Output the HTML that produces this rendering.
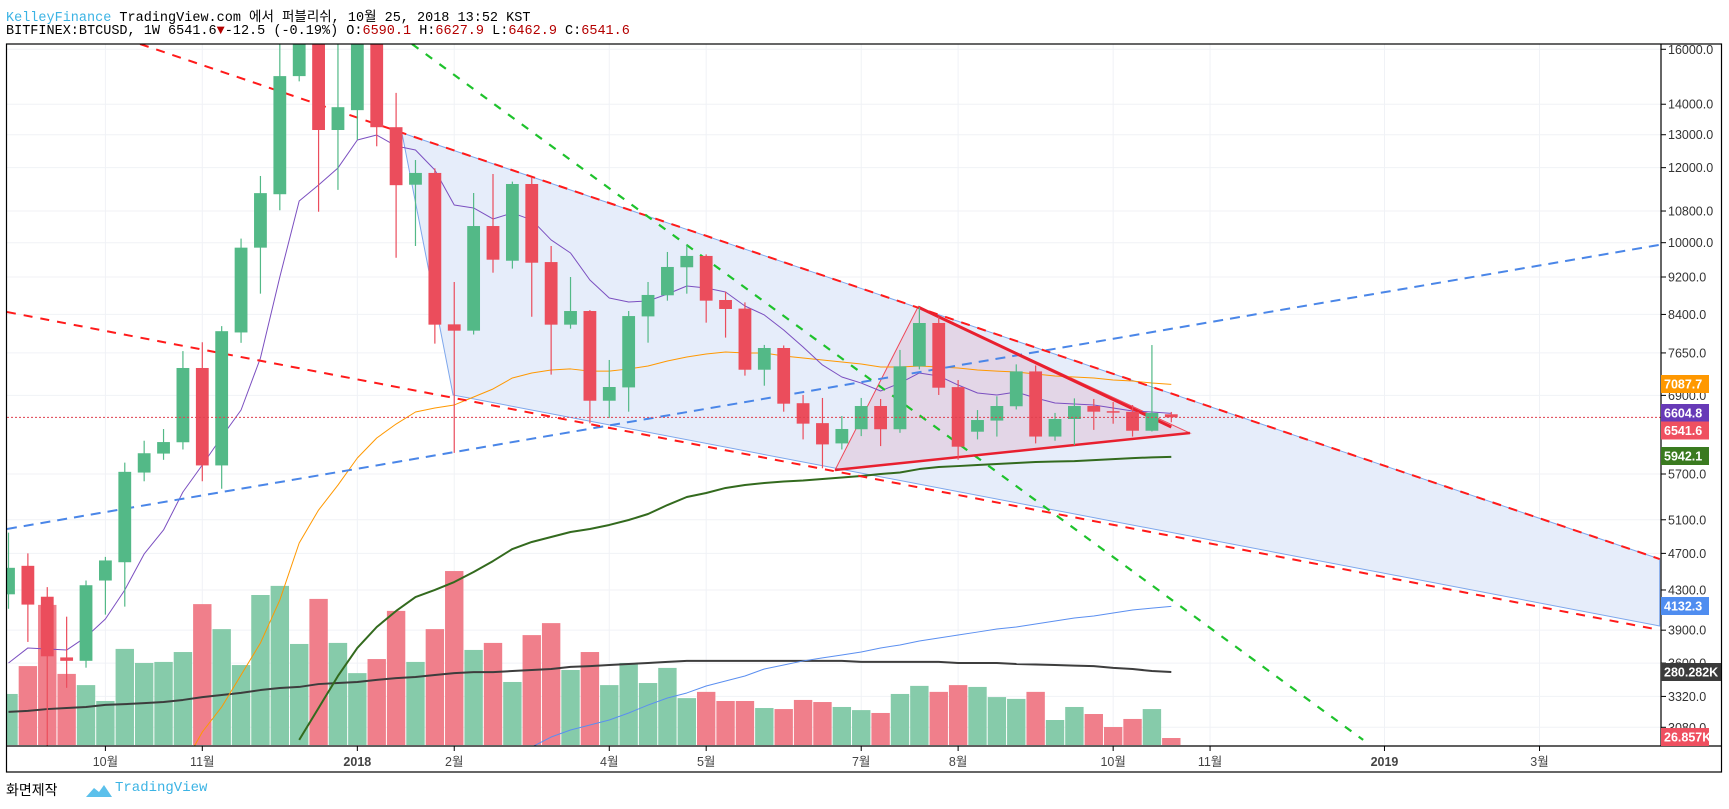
<!DOCTYPE html>
<html><head><meta charset="utf-8"><style>
html,body{margin:0;padding:0;background:#fff;width:1729px;height:809px;overflow:hidden}
#hdr1,#hdr2{position:absolute;left:6px;font-family:"Liberation Mono","Noto Sans CJK KR",monospace;font-size:13.5px;white-space:pre;color:#000}
#hdr1{top:5px}#hdr2{top:24px}
.blue{color:#3bb3e4}.dred{color:#b40000}
#foot{position:absolute;left:6px;top:780px;font-family:"Liberation Sans","Noto Sans CJK KR",sans-serif;font-size:14px;color:#000}
#foot2{position:absolute;left:115px;top:780px;font-family:"Liberation Mono",monospace;font-size:14px;color:#3bb3e4}
svg{position:absolute;left:0;top:0}
</style></head><body>
<div id="hdr1"><span class="blue">KelleyFinance</span> TradingView.com 에서 퍼블리쉬, 10월 25, 2018 13:52 KST</div>
<div id="hdr2">BITFINEX:BTCUSD, 1W 6541.6<span class="dred">▼</span>-12.5 (-0.19%) O:<span class="dred">6590.1</span> H:<span class="dred">6627.9</span> L:<span class="dred">6462.9</span> C:<span class="dred">6541.6</span></div>
<svg id="chart" width="1729" height="809"></svg>
<div id="foot">화면제작</div>
<svg width="30" height="20" style="left:84px;top:781px"><path d="M2 16 L10 7 L15 11 L20 4 L28 16 Z" fill="#5bc0eb"/></svg>
<div id="foot2">TradingView</div>
<script>
const opens=[4255,4560,4230,3650,3620,4400,4600,5720,5990,6157,7375,5820,8040,9880,11250,14990,19000,13150,13800,17100,13240,11513,11847,8200,8075,10413,9571,11533,9540,8194,8470,6811,7035,8360,8800,9420,9683,8700,8520,7344,7742,6770,6450,6140,6355,6724,6355,7405,8227,7040,6317,6490,6720,7314,6243,6515,6724,6640,6630,6332,6590.1];
const highs=[4943,4700,4330,4030,4400,4660,5860,6180,6358,7684,7850,8165,10100,11760,17000,19900,19800,16800,17200,17200,14390,12225,11981,9089,11285,11817,11600,11721,9920,9200,8490,7520,8470,9089,9777,9945,9720,8877,8650,7800,7790,6907,6857,6562,6857,6840,7706,8547,8355,7163,6658,6885,7440,7420,6612,6850,6840,6789,6740,7798,6627.9];
const lows=[4108,3790,2917,3390,3560,4050,4130,5600,5900,6050,5600,5500,7840,8835,10820,14800,10780,11370,12840,12640,9640,9920,7824,6000,8000,9297,9389,8354,7256,8114,6447,6532,6632,7843,8686,8835,8234,7940,7239,7064,6632,6200,5780,6050,6250,6100,6300,7350,6907,5900,6200,6243,6668,6140,6180,6116,6345,6441,6243,6320,6462.9];
const closes=[4538,4150,3660,3620,4350,4620,5730,5995,6160,7375,5820,8065,9880,11280,14990,19000,13150,13900,17100,13240,11500,11847,8194,8075,10413,9595,11533,9525,8194,8470,6811,7042,8367,8807,9427,9683,8686,8512,7344,7742,6762,6442,6125,6359,6724,6355,7405,8227,7030,6091,6499,6724,7314,6243,6515,6724,6632,6620,6332,6612,6541.6];
const volumesK=[196,303,538,273,230,169,369,315,319,357,541,445,307,576,611,388,561,392,276,330,515,319,445,668,365,392,242,422,468,288,357,230,315,238,296,180,204,169,169,142,138,173,165,146,134,123,196,227,204,230,223,184,177,204,96,146,119,69,100,138,26.857];
const maPurple=[3601,3735,3725,3716,3836,4007,4300,4693,4975,5456,5826,6236,6659,7556,9200,11067,11505,11991,12834,12990,12648,12527,11933,10959,10880,10593,10749,10568,10067,9753,9133,8742,8658,8679,8828,9001,8957,8871,8574,8389,8089,7761,7429,7215,7110,6974,7110,7286,7233,7076,6940,6907,6957,6856,6773,6757,6741,6692,6643,6627,6604.8];
const maOrange=[null,null,null,null,null,null,null,null,null,2800,3045,3236,3497,3780,4196,4820,5222,5549,5926,6221,6436,6627,6692,6741,6873,7008,7198,7286,7339,7358,7320,7320,7358,7411,7501,7574,7630,7667,7648,7648,7593,7556,7519,7482,7447,7393,7393,7411,7393,7375,7339,7320,7303,7268,7233,7215,7198,7163,7145,7110,7087.7];
const maGreen=[null,null,null,null,null,null,null,null,null,null,null,null,null,null,null,2987,3228,3489,3735,3930,4086,4227,4300,4384,4492,4613,4750,4832,4891,4951,4987,5036,5097,5172,5286,5390,5443,5510,5549,5577,5597,5610,5631,5652,5672,5700,5721,5769,5797,5811,5826,5840,5854,5868,5875,5882,5896,5910,5925,5935,5942.1];
const maBlue=[null,null,null,null,null,null,null,null,null,null,null,null,null,null,null,null,null,null,null,null,null,null,null,null,null,null,null,2936,3008,3060,3097,3135,3189,3251,3307,3348,3405,3447,3489,3549,3583,3619,3646,3672,3698,3735,3762,3799,3826,3854,3882,3911,3930,3959,3988,4017,4037,4066,4096,4115,4132.3];
const volMA=[127,131,138,142,146,154,157,161,165,173,184,192,200,211,219,223,234,238,242,250,257,261,269,276,280,280,284,288,292,300,303,307,311,315,319,323,323,323,323,323,323,323,323,323,319,319,319,319,319,315,315,315,311,309,307,305,303,296,292,284,280.282];
const priceTicks=[16000,14000,13000,12000,10800,10000,9200,8400,7650,6900,5700,5100,4700,4300,3900,3600,3320,3080];
const timeTickIdx=[5,10,18,23,31,36,44,49,57,62,71,79];
const timeTickLabels=["10월","11월","2018","2월","4월","5월","7월","8월","10월","11월","2019","3월"];
const lastPrice=6541.6;
const redTopLine=[[6.79,16207],[85.2,4636]];
const redLowLine=[[-0.08,8450],[85.2,3902]];
const blueDashLine=[[-0.08,4987],[85.2,9948]];
const greenDashLine=[[20.82,16207],[69.9,2987]];
const channel=[[20.3,13058],[85.2,4636],[85.2,3940],[22.94,6907]];
const triangle=[[46.93,8553],[60.96,6297],[42.65,5756]];
const triTopEnd=[60.0,6390];

const L=7,R=1661,T=44,B=746;
const xOf=i=>8.5+19.38*i;
const yOf=p=>474-Math.log(p/5700)*411.5;
const volY=v=>745-v/3.84;
const NS="http://www.w3.org/2000/svg";
const svg=document.getElementById('chart');
function mk(tag,attrs,parent){const e=document.createElementNS(NS,tag);for(const k in attrs)e.setAttribute(k,attrs[k]);(parent||svg).appendChild(e);return e;}

const defs=mk('defs',{});
const cp=mk('clipPath',{id:'pane'},defs);mk('rect',{x:L,y:T,width:R-L,height:B-T},cp);

const grid=mk('g',{});


priceTicks.forEach(p=>{const l=mk('line',{x1:L,x2:R,y1:yOf(p),y2:yOf(p),stroke:'#f0f2f6','stroke-width':1},grid);

});
timeTickIdx.forEach(i=>{const l=mk('line',{x1:xOf(i),x2:xOf(i),y1:T,y2:B,stroke:'#f0f2f6','stroke-width':1},grid);

});

const pane=mk('g',{'clip-path':'url(#pane)'});


const pts=a=>a.map(q=>xOf(q[0])+','+yOf(q[1])).join(' ');

const ch=mk('polygon',{points:pts(channel),fill:'#e6edfa',stroke:'#7ea7ec','stroke-width':1},pane);


const tri=mk('polygon',{points:pts(triangle),fill:'rgba(220,130,165,0.22)',stroke:'#ef4a5a','stroke-width':1},pane);



volumesK.forEach((v,i)=>{const up=closes[i]>=opens[i];
const r=mk('rect',{x:xOf(i)-9.2,y:volY(v),width:18.4,height:745-volY(v),fill:up?'#86cbaa':'#f07f8b'},pane);

});

function line(arr,fn,color,w,name){let d='';arr.forEach((v,i)=>{if(v==null)return;d+=(d?'L':'M')+xOf(i)+','+fn(v);});
const p=mk('path',{d:d,fill:'none',stroke:color,'stroke-width':w,'stroke-linejoin':'round'},pane);

return p;}
line(volMA,volY,'#3d3d3d',2,'volume-ma-line');
line(maBlue,yOf,'#5b8ff0',1,'ma-blue-line');
line(maGreen,yOf,'#336a1e',2,'ma-green-line');
line(maOrange,yOf,'#ff9800',1,'ma-orange-line');
line(maPurple,yOf,'#7b4fc0',1,'ma-purple-line');

function tl(a,color,w,dash,name){const e=mk('line',{x1:xOf(a[0][0]),y1:yOf(a[0][1]),x2:xOf(a[1][0]),y2:yOf(a[1][1]),stroke:color,'stroke-width':w,'stroke-dasharray':dash},pane);

}
tl(blueDashLine,'#4a86e8',2,'10,7','blue-dashed-trendline');
tl(redTopLine,'#ff1a1a',2,'9,8','red-upper-trendline');
tl(redLowLine,'#ff1a1a',2,'9,8','red-lower-trendline');
tl(greenDashLine,'#1ec22c',2.2,'8,9','green-dashed-trendline');
tl([triangle[0],triTopEnd],'#e8202f',3,'none','triangle-upper-edge');
tl([triangle[2],triangle[1]],'#e8202f',2.5,'none','triangle-lower-edge');

opens.forEach((o,i)=>{const c=closes[i],up=c>=o,col=up?'#53b987':'#eb4d5c';
const g=mk('g',{},pane);


mk('line',{x1:xOf(i),x2:xOf(i),y1:yOf(highs[i]),y2:yOf(lows[i]),stroke:col,'stroke-width':1.2},g);
const t=yOf(Math.max(o,c)),b=yOf(Math.min(o,c));
mk('rect',{x:xOf(i)-6.4,y:t,width:12.8,height:Math.max(1.5,b-t),fill:col},g);});

const lp=mk('line',{x1:L,x2:R,y1:yOf(lastPrice),y2:yOf(lastPrice),stroke:'#e0404f','stroke-width':1,'stroke-dasharray':'2,2'},pane);



const fr=mk('g',{fill:'none',stroke:'#000','stroke-width':1.2});


mk('rect',{x:6.5,y:44,width:1715,height:728},fr);
mk('line',{x1:R,x2:R,y1:44,y2:B},fr);
mk('line',{x1:6.5,x2:1721,y1:B,y2:B},fr);

const ax=mk('g',{'font-family':'Liberation Sans, sans-serif','font-size':'12.5px',fill:'#333'});


priceTicks.forEach(p=>{const y=yOf(p);
mk('line',{x1:R,x2:R+5,y1:y,y2:y,stroke:'#000'},ax);
const t=mk('text',{x:1668,y:y+4.5},ax);t.textContent=p.toFixed(1);

});

const tx=mk('g',{'font-family':'Liberation Sans, "Noto Sans CJK KR", sans-serif','font-size':'12.5px',fill:'#444','text-anchor':'middle'});


timeTickIdx.forEach((i,k)=>{const x=xOf(i);
mk('line',{x1:x,x2:x,y1:B,y2:B+5,stroke:'#000'},tx);
const t=mk('text',{x:x,y:766,'font-weight':/^\d{4}$/.test(timeTickLabels[k])?'bold':'normal'},tx);t.textContent=timeTickLabels[k];

});

const boxes=[[maOrange[60],384,'#ff9800',false],[maPurple[60],413,'#673ab7',false],[lastPrice,430.5,'#ef5060',false],[maGreen[60],456,'#3a7a1f',false],[maBlue[60],606,'#4f8df0',false],[volMA[60],672,'#3b3b3b',true],[volumesK[60],737,'#ef5060',true]];
boxes.forEach(b=>{const g=mk('g',{});


const txt=b[3]?(b[0].toFixed(3)+'K'):b[0].toFixed(1);
const w=txt.length>7?60:48;
mk('rect',{x:R,y:b[1]-9,width:w,height:18,fill:b[2]},g);
const t=mk('text',{x:R+3,y:b[1]+4.5,fill:'#fff','font-family':'Liberation Sans, sans-serif','font-size':'12.5px','font-weight':'bold'},g);t.textContent=txt;});
</script>
</body></html>
